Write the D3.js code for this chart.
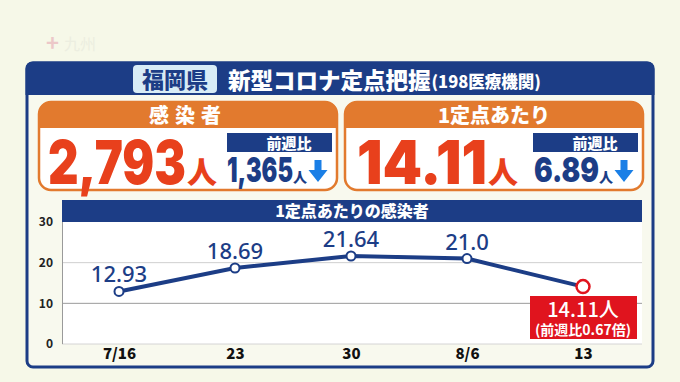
<!DOCTYPE html>
<html>
<head>
<meta charset="utf-8">
<title>福岡県 新型コロナ定点把握</title>
<script src="https://d3js.org/d3.v7.min.js"></script>
<style>
  body { margin: 0; background: #f6f8e8; }
  svg { display: block; }
  text { font-family: "Noto Sans CJK JP", "Noto Sans", sans-serif; }
</style>
</head>
<body>
<script>
// data
var dates = ["7/16", "23", "30", "8/6", "13"];
var values = [12.93, 18.69, 21.64, 21.0, 14.11];
var valueLabels = ["12.93", "18.69", "21.64", "21.0", "14.11"];
var yTicks = [0, 10, 20, 30];

var cardTitles = ["感染者", "1定点あたり"];
var cardValues = ["2,793", "14.11"];
var cardDiffs = ["1,365", "6.89"];
var lastNote = ["14.11人", "(前週比0.67倍)"];

var W = 680, H = 382;
var navy = "#1c3d86", orange = "#e27a2e", red = "#e8401c";
var numFont = "Inter, 'Noto Sans', sans-serif";

var svg = d3.select("body").append("svg")
    .attr("width", W)
    .attr("height", H);

svg.append("rect").attr("width", W).attr("height", H).attr("fill", "#f6f8e8");

// faint watermark
svg.append("text").attr("x", 46).attr("y", 51)
    .attr("font-size", 22).attr("font-weight", 700).attr("fill", "#ecc8c8").text("+");
svg.append("text").attr("x", 64).attr("y", 50)
    .attr("font-size", 16).attr("fill", "#eceee0").text("九州");

// outer panel
svg.append("rect").attr("x", 27).attr("y", 63).attr("width", 626).attr("height", 304)
    .attr("rx", 6).attr("fill", "#f8f9ee").attr("stroke", navy).attr("stroke-width", 3);
svg.append("path")
    .attr("d", "M25.5,95 V69 Q25.5,61.5 33,61.5 H647 Q654.5,61.5 654.5,69 V95 Z")
    .attr("fill", navy);

// title
svg.append("rect").attr("x", 133).attr("y", 65).attr("width", 84).attr("height", 28)
    .attr("rx", 4).attr("fill", "#d8ecf6");
svg.append("text").attr("x", 175).attr("y", 88).attr("text-anchor", "middle")
    .attr("font-size", 22).attr("font-weight", 900).attr("fill", navy).text("福岡県");
var title = svg.append("text").attr("x", 228).attr("y", 89)
    .attr("font-weight", 900).attr("fill", "#fff");
title.append("tspan").attr("font-size", 22.5).text("新型コロナ定点把握");
title.append("tspan").attr("font-size", 16.5).attr("dy", -1).attr("dx", 1).text("(198医療機関)");

// summary cards
var cardX = [39, 345];
var cardW = 298;
cardTitles.forEach(function(t, i) {
    var g = svg.append("g").attr("transform", "translate(" + cardX[i] + ",102)");
    g.append("rect").attr("width", cardW).attr("height", 88).attr("rx", 12)
        .attr("fill", "#fff").attr("stroke", orange).attr("stroke-width", 2.5);
    g.append("path")
        .attr("d", "M0,26 V12 Q0,0 12,0 H" + (cardW - 12) + " Q" + cardW + ",0 " + cardW + ",12 V26 Z")
        .attr("fill", orange);
    g.append("text").attr("x", cardW / 2).attr("y", 21).attr("text-anchor", "middle")
        .attr("font-size", 20).attr("font-weight", 900).attr("fill", "#fff")
        .attr("letter-spacing", i === 0 ? 6 : 0).text(t);

    // big value
    var bx = i === 0 ? 9 : 12;
    var bw = i === 0 ? 138 : 130;
    g.append("text").attr("x", bx).attr("y", 82)
        .attr("font-size", 60).attr("font-weight", 900).attr("fill", red)
        .style("font-family", numFont)
        .attr("textLength", bw).attr("lengthAdjust", "spacingAndGlyphs")
        .text(cardValues[i]);
    g.append("text").attr("x", bx + bw + 1).attr("y", 81)
        .attr("font-size", 30).attr("font-weight", 900).attr("fill", red).text("人");

    // previous week box
    var px = 188;
    g.append("rect").attr("x", px).attr("y", 31).attr("width", 105).attr("height", 19)
        .attr("fill", navy);
    g.append("text").attr("x", px + 62).attr("y", 47).attr("text-anchor", "middle")
        .attr("font-size", 15).attr("font-weight", 900).attr("fill", "#fff").text("前週比");
    var dw = i === 0 ? 66 : 65;
    var dx = i === 0 ? 188 : 189;
    g.append("text").attr("x", dx).attr("y", 80)
        .attr("font-size", 34).attr("font-weight", 900).attr("fill", navy)
        .style("font-family", numFont)
        .attr("textLength", dw).attr("lengthAdjust", "spacingAndGlyphs")
        .text(cardDiffs[i]);
    g.append("text").attr("x", dx + dw).attr("y", 80)
        .attr("font-size", 14).attr("font-weight", 900).attr("fill", navy).text("人");
    var ax = dx + dw + 25;
    g.append("path")
        .attr("d", "M" + (ax - 3.5) + ",58 h7 v10 h6 l-9.5,12 l-9.5,-12 h6 z")
        .attr("fill", "#1a7fe6");
});

// line chart
var plotL = 62, plotR = 642, plotT = 222, plotB = 344;

svg.append("rect").attr("x", plotL).attr("y", 200).attr("width", plotR - plotL).attr("height", 22)
    .attr("fill", navy);
svg.append("text").attr("x", 352).attr("y", 217).attr("text-anchor", "middle")
    .attr("font-size", 16).attr("font-weight", 900).attr("fill", "#fff").text("1定点あたりの感染者");

svg.append("rect").attr("x", plotL).attr("y", plotT).attr("width", plotR - plotL).attr("height", plotB - plotT)
    .attr("fill", "#fff");

var x = d3.scalePoint().domain(dates).range([119, 583]);
var y = d3.scaleLinear().domain([0, 30]).range([plotB, plotT]);

// grid
svg.append("g").selectAll("line").data([10, 20]).enter().append("line")
    .attr("x1", plotL).attr("x2", plotR)
    .attr("y1", function(d) { return y(d); }).attr("y2", function(d) { return y(d); })
    .attr("stroke", function(d) { return d === 10 ? "#9a9a9a" : "#cfcfcf"; })
    .attr("stroke-width", 1);
svg.append("line").attr("x1", plotL).attr("x2", plotR).attr("y1", plotB).attr("y2", plotB)
    .attr("stroke", "#d4d4d4");
svg.append("line").attr("x1", plotL + 0.5).attr("x2", plotL + 0.5).attr("y1", plotT).attr("y2", plotB)
    .attr("stroke", "#9a9a9a");

// axes
var yAxis = svg.append("g").attr("transform", "translate(" + plotL + ",0)")
    .call(d3.axisLeft(y).tickValues(yTicks).tickSize(0).tickPadding(9));
yAxis.select(".domain").remove();
yAxis.selectAll("text").attr("font-size", 12).attr("font-weight", 700).attr("fill", "#222")
    .style("font-family", "'Noto Sans CJK JP', sans-serif");

var xAxis = svg.append("g").attr("transform", "translate(0," + plotB + ")")
    .call(d3.axisBottom(x).tickSize(0).tickPadding(4));
xAxis.select(".domain").remove();
xAxis.selectAll("text").attr("font-size", 15).attr("font-weight", 900).attr("fill", "#111")
    .style("font-family", "'Noto Sans CJK JP', sans-serif");

var line = d3.line()
    .x(function(d, i) { return x(dates[i]); })
    .y(function(d) { return y(d); });

svg.append("path").datum(values).attr("d", line)
    .attr("fill", "none").attr("stroke", navy).attr("stroke-width", 4);

var last = values.length - 1;
svg.append("g").selectAll("circle").data(values).enter().append("circle")
    .attr("cx", function(d, i) { return x(dates[i]); })
    .attr("cy", function(d) { return y(d); })
    .attr("r", function(d, i) { return i === last ? 6.5 : 4.5; })
    .attr("fill", "#fff")
    .attr("stroke", function(d, i) { return i === last ? "#e0141e" : navy; })
    .attr("stroke-width", function(d, i) { return i === last ? 2.5 : 2; });

svg.append("g").selectAll("text").data(values.slice(0, last)).enter().append("text")
    .attr("x", function(d, i) { return x(dates[i]); })
    .attr("y", function(d) { return y(d) - 9; })
    .attr("text-anchor", "middle")
    .attr("font-size", 22).attr("font-weight", 500).attr("fill", navy)
    .style("font-family", "'Noto Sans', sans-serif")
    .text(function(d, i) { return valueLabels[i]; });

// last value box
var lx = x(dates[last]);
svg.append("rect").attr("x", lx - 53).attr("y", 296).attr("width", 107).attr("height", 43)
    .attr("fill", "#e0141e");
svg.append("text").attr("x", lx).attr("y", 317).attr("text-anchor", "middle")
    .attr("font-size", 20).attr("font-weight", 500).attr("fill", "#fff").text(lastNote[0]);
svg.append("text").attr("x", lx).attr("y", 335).attr("text-anchor", "middle")
    .attr("font-size", 14).attr("font-weight", 700).attr("fill", "#fff").text(lastNote[1]);
</script>
</body>
</html>
